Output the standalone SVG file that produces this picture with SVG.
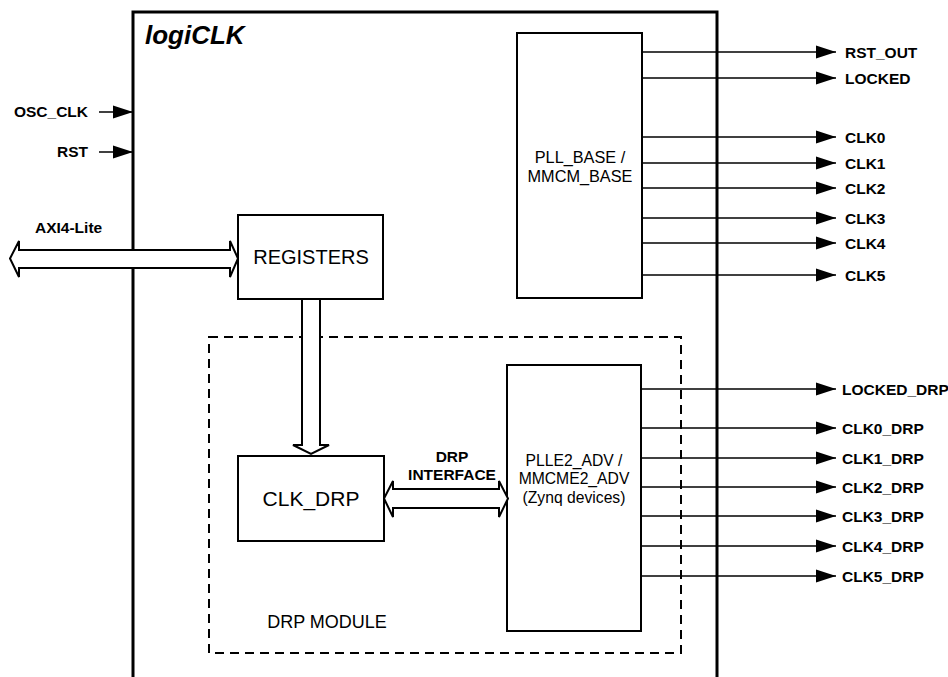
<svg xmlns="http://www.w3.org/2000/svg" width="948" height="677" viewBox="0 0 948 677">
  <style>
    .box { fill: #fff; stroke: #000; stroke-width: 2; }
    .outer { fill: none; stroke: #000; stroke-width: 3; }
    .dash { fill: none; stroke: #000; stroke-width: 2; stroke-dasharray: 9 6; }
    .wire { fill: none; stroke: #000; stroke-width: 1.5; }
    .bus { fill: #fff; stroke: #000; stroke-width: 2; stroke-linejoin: miter; }
    .lbl { font-family: "Liberation Sans", Arial, sans-serif; font-weight: bold; font-size: 15.5px; fill: #000; }
    .txt { font-family: "Liberation Sans", Arial, sans-serif; fill: #000; text-anchor: middle; }
  </style>
  <defs>
    <marker id="arrow" markerUnits="userSpaceOnUse" markerWidth="21" markerHeight="14" refX="20" refY="7" orient="auto">
      <polygon points="0,0.5 20,7 0,13.5" fill="#000"/>
    </marker>
  </defs>

  <!-- top level block -->
  <g id="logiclk">
    <rect class="outer" x="133" y="12" width="584" height="680"/>
    <text x="145" y="44" style="font-family:'Liberation Sans',Arial,sans-serif;font-weight:bold;font-style:italic;font-size:26px">logiCLK</text>
  </g>

  <!-- DRP module region -->
  <g id="drp-module">
    <rect class="dash" x="209" y="337" width="472" height="316"/>
    <text class="txt" x="327" y="628" style="font-size:18px">DRP MODULE</text>
  </g>

  <g id="pll-base">
    <rect class="box" x="517" y="33" width="125" height="265"/>
    <text class="txt" x="580" y="163" style="font-size:16.3px">PLL_BASE /</text>
    <text class="txt" x="580" y="182" style="font-size:16.3px">MMCM_BASE</text>
  </g>

  <g id="registers">
    <rect class="box" x="238" y="215" width="145" height="84"/>
    <text class="txt" x="311" y="264" style="font-size:20px">REGISTERS</text>
  </g>

  <g id="clk-drp">
    <rect class="box" x="238" y="456" width="146" height="85"/>
    <text class="txt" x="311" y="506" style="font-size:21px">CLK_DRP</text>
  </g>

  <g id="plle2-adv">
    <rect class="box" x="507" y="365" width="134" height="266"/>
    <text class="txt" x="574" y="466" style="font-size:15.7px">PLLE2_ADV /</text>
    <text class="txt" x="574" y="484" style="font-size:15.7px">MMCME2_ADV</text>
    <text class="txt" x="574" y="503" style="font-size:15.7px">(Zynq devices)</text>
  </g>

  <g id="connectors">
    <!-- inputs -->
    <line class="wire" x1="99" y1="112" x2="133" y2="112" marker-end="url(#arrow)"/>
    <line class="wire" x1="99" y1="152" x2="133" y2="152" marker-end="url(#arrow)"/>

    <!-- AXI4-Lite bus -->
    <path class="bus" d="M10,258.5 L19,241 L19,250 L230,250 L230,241 L238,258.5 L230,277 L230,268 L19,268 L19,277 Z"/>

    <!-- register to CLK_DRP bus -->
    <path class="bus" d="M302,299 L320,299 L320,445 L329,445 L311,454 L293,445 L302,445 Z"/>

    <!-- DRP interface bus -->
    <path class="bus" d="M384,498.5 L393,481 L393,489 L499,489 L499,481 L508,498.5 L499,517 L499,508 L393,508 L393,517 Z"/>

    <!-- PLL_BASE outputs -->
    <line class="wire" x1="642" y1="52" x2="836" y2="52" marker-end="url(#arrow)"/>
    <line class="wire" x1="642" y1="78" x2="836" y2="78" marker-end="url(#arrow)"/>
    <line class="wire" x1="642" y1="137" x2="836" y2="137" marker-end="url(#arrow)"/>
    <line class="wire" x1="642" y1="163" x2="836" y2="163" marker-end="url(#arrow)"/>
    <line class="wire" x1="642" y1="188" x2="836" y2="188" marker-end="url(#arrow)"/>
    <line class="wire" x1="642" y1="218" x2="836" y2="218" marker-end="url(#arrow)"/>
    <line class="wire" x1="642" y1="243" x2="836" y2="243" marker-end="url(#arrow)"/>
    <line class="wire" x1="642" y1="275" x2="836" y2="275" marker-end="url(#arrow)"/>

    <!-- PLLE2_ADV outputs -->
    <line class="wire" x1="641" y1="389" x2="836" y2="389" marker-end="url(#arrow)"/>
    <line class="wire" x1="641" y1="428" x2="836" y2="428" marker-end="url(#arrow)"/>
    <line class="wire" x1="641" y1="458" x2="836" y2="458" marker-end="url(#arrow)"/>
    <line class="wire" x1="641" y1="487" x2="836" y2="487" marker-end="url(#arrow)"/>
    <line class="wire" x1="641" y1="516" x2="836" y2="516" marker-end="url(#arrow)"/>
    <line class="wire" x1="641" y1="546" x2="836" y2="546" marker-end="url(#arrow)"/>
    <line class="wire" x1="641" y1="576" x2="836" y2="576" marker-end="url(#arrow)"/>
  </g>

  <!-- signal labels -->
  <g id="labels">
    <text class="lbl" x="88" y="117" text-anchor="end">OSC_CLK</text>
    <text class="lbl" x="88" y="157" text-anchor="end">RST</text>
    <text class="lbl" x="35" y="233">AXI4-Lite</text>
    <text class="lbl" x="452" y="462" text-anchor="middle">DRP</text>
    <text class="lbl" x="452" y="480" text-anchor="middle">INTERFACE</text>

    <text class="lbl" x="845" y="57.5">RST_OUT</text>
    <text class="lbl" x="845" y="83.5">LOCKED</text>
    <text class="lbl" x="845" y="142.5">CLK0</text>
    <text class="lbl" x="845" y="168.5">CLK1</text>
    <text class="lbl" x="845" y="193.5">CLK2</text>
    <text class="lbl" x="845" y="223.5">CLK3</text>
    <text class="lbl" x="845" y="248.5">CLK4</text>
    <text class="lbl" x="845" y="280.5">CLK5</text>

    <text class="lbl" x="842" y="394.5">LOCKED_DRP</text>
    <text class="lbl" x="842" y="433.5">CLK0_DRP</text>
    <text class="lbl" x="842" y="463.5">CLK1_DRP</text>
    <text class="lbl" x="842" y="492.5">CLK2_DRP</text>
    <text class="lbl" x="842" y="521.5">CLK3_DRP</text>
    <text class="lbl" x="842" y="551.5">CLK4_DRP</text>
    <text class="lbl" x="842" y="581.5">CLK5_DRP</text>
  </g>
</svg>
